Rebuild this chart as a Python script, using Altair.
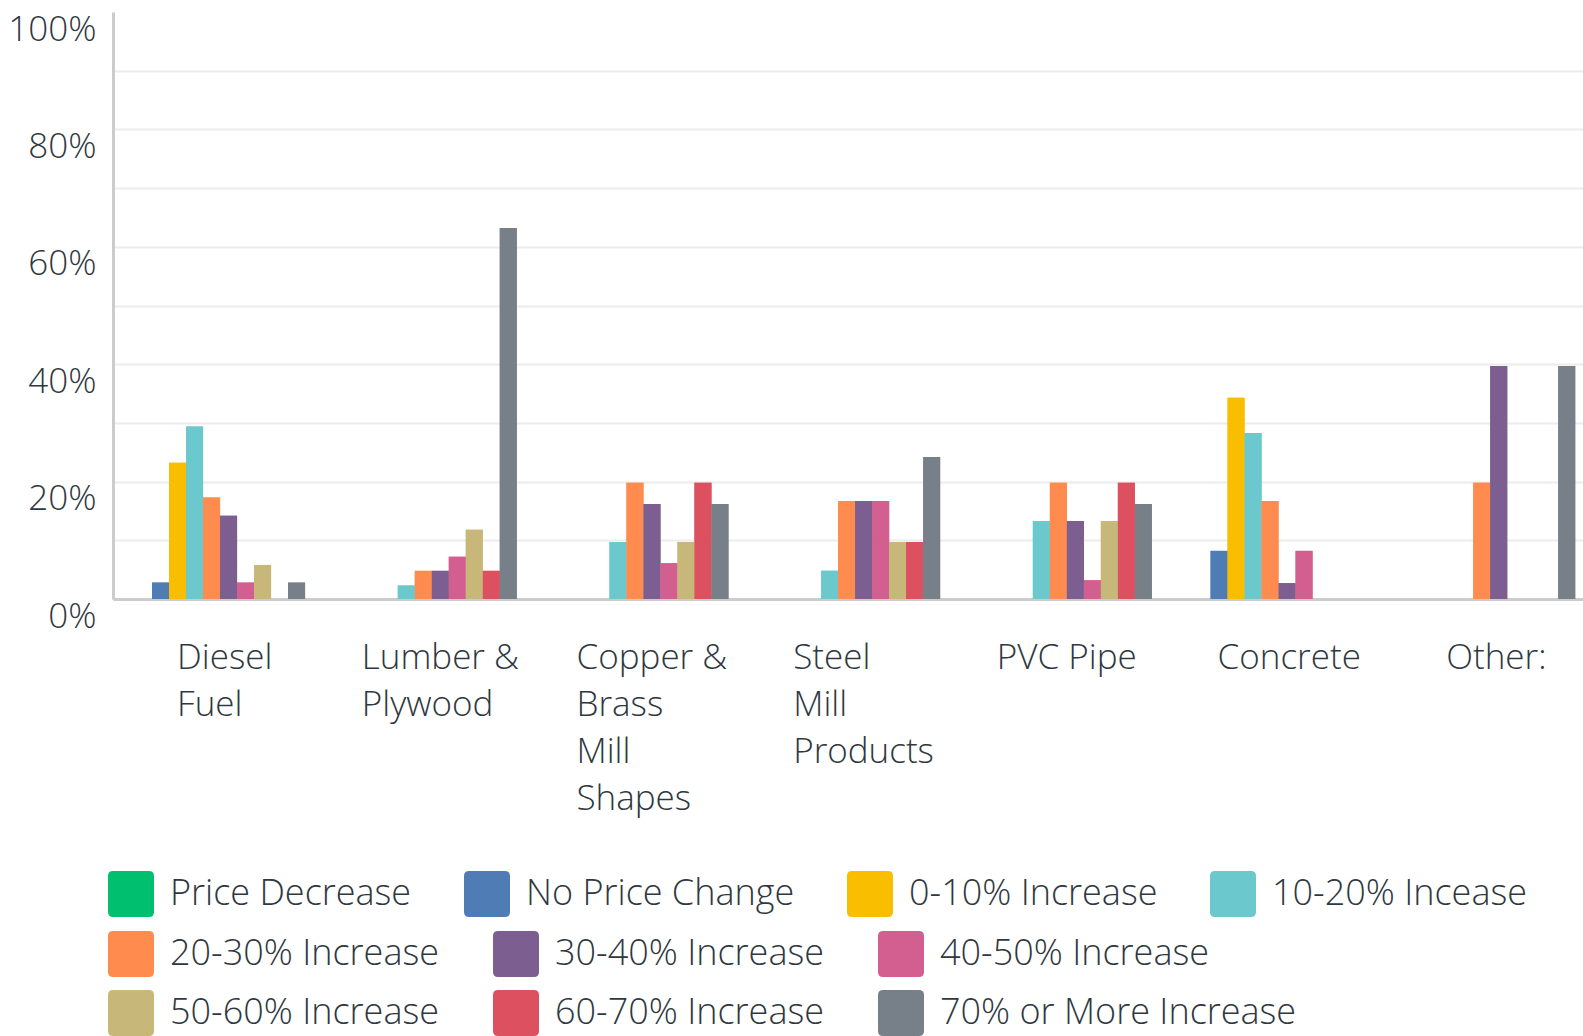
import json

import altair as alt
import pandas as pd

# Materials and the answer buckets
categories = [
    "Diesel Fuel",
    "Lumber & Plywood",
    "Copper & Brass Mill Shapes",
    "Steel Mill Products",
    "PVC Pipe",
    "Concrete",
    "Other:",
]
category_lines = [
    ["Diesel", "Fuel"],
    ["Lumber &", "Plywood"],
    ["Copper &", "Brass", "Mill", "Shapes"],
    ["Steel", "Mill", "Products"],
    ["PVC Pipe"],
    ["Concrete"],
    ["Other:"],
]
series = [
    "Price Decrease",
    "No Price Change",
    "0-10% Increase",
    "10-20% Incease",
    "20-30% Increase",
    "30-40% Increase",
    "40-50% Increase",
    "50-60% Increase",
    "60-70% Increase",
    "70% or More Increase",
]
colors = [
    "#00BF6F", "#507CB6", "#F9BE00", "#6BC8CD", "#FF8B4F",
    "#7D5E90", "#D25F90", "#C7B879", "#DC5060", "#778088",
]

# Share of respondents (%) per material, in series order
diesel = [0, 2.8, 23.2, 29.4, 17.3, 14.2, 2.8, 5.8, 0, 2.8]
lumber = [0, 0, 0, 2.3, 4.8, 4.8, 7.2, 11.8, 4.8, 63.2]
copper = [0, 0, 0, 9.7, 19.8, 16.2, 6.1, 9.7, 19.8, 16.2]
steel = [0, 0, 0, 4.8, 16.7, 16.7, 16.7, 9.7, 9.7, 24.2]
pvc = [0, 0, 0, 13.3, 19.8, 13.3, 3.2, 13.3, 19.8, 16.2]
concrete = [0, 8.2, 34.3, 28.3, 16.7, 2.7, 8.2, 0, 0, 0]
other = [0, 0, 0, 0, 19.8, 39.7, 0, 0, 0, 39.7]
values = [diesel, lumber, copper, steel, pvc, concrete, other]

# Horizontal shift of each wrapped category label (left edge vs. band centre)
label_shift = [-43, -70, -67, -62, -70, -61, -44]

rows = [
    {"category": c, "series": s, "bucket": s, "pct": v}
    for c, vals in zip(categories, values)
    for s, v in zip(series, vals)
]
df = pd.DataFrame(rows)

FONT = "Open Sans"
TEXT = "#2f3840"
WEIGHT = 300

wrap_expr = "".join(
    f"datum.value === {json.dumps(c)} ? {json.dumps(lines)} : "
    for c, lines in zip(categories, category_lines)
) + "datum.value"

x_offset_rule = {
    "condition": [
        {"test": f"datum.value === {json.dumps(c)}", "value": off}
        for c, off in zip(categories, label_shift)
    ],
    "value": 0,
}

rounded_square = (
    "M -0.78 -1 L 0.78 -1 Q 1 -1 1 -0.78 L 1 0.78 Q 1 1 0.78 1 "
    "L -0.78 1 Q -1 1 -1 0.78 L -1 -0.78 Q -1 -1 -0.78 -1 Z"
)


def legend_block(entries, cols, y, col_pad):
    return alt.Legend(
        title=None,
        values=entries,
        orient="none",
        legendX=-5,
        legendY=y,
        direction="horizontal",
        columns=cols,
        gridAlign="each",
        symbolType=rounded_square,
        symbolSize=2116,
        symbolStrokeWidth=0,
        symbolOpacity=1,
        labelFont=FONT,
        labelFontSize=36,
        labelFontWeight=WEIGHT,
        labelColor=TEXT,
        labelOffset=16,
        labelLimit=600,
        columnPadding=col_pad,
        rowPadding=13,
        padding=0,
    )


x_enc = alt.X(
    "category:N",
    sort=categories,
    title=None,
    scale=alt.Scale(paddingInner=0.197, paddingOuter=0.0705, align=0.74),
    axis=alt.Axis(
        labelExpr=wrap_expr,
        labelAlign="left",
        labelBaseline="top",
        labelOffset=x_offset_rule,
        labelPadding=41,
        labelLineHeight=47,
        labelFont=FONT,
        labelFontSize=35,
        labelFontWeight=WEIGHT,
        labelColor=TEXT,
        labelLimit=600,
        labelAngle=0,
        ticks=False,
        domainColor="#cccccc",
        domainWidth=3,
        grid=False,
    ),
)
xoff_enc = alt.XOffset(
    "series:N",
    scale=alt.Scale(domain=series, paddingInner=0, paddingOuter=0),
)
y_enc = alt.Y(
    "pct:Q",
    title=None,
    scale=alt.Scale(domain=[0, 100], nice=False),
    axis=alt.Axis(
        values=list(range(0, 101, 10)),
        labelExpr="datum.value % 20 === 0 ? datum.value + '%' : ''",
        labelFont=FONT,
        labelFontSize=35,
        labelFontWeight=WEIGHT,
        labelColor=TEXT,
        labelPadding=17,
        labelBaseline="middle",
        labelOffset=17,
        labelFlush=False,
        labelOverlap=False,
        ticks=False,
        domainColor="#cccccc",
        domainWidth=3,
        gridColor="#ececec",
        gridWidth=2,
        gridOpacity={
            "condition": {"test": "datum.value >= 100", "value": 0},
            "value": 1,
        },
    ),
)

base = alt.Chart(df).mark_bar()

# Bars coloured through "color" (legend: first row) ...
bars_top = base.encode(
    x=x_enc,
    xOffset=xoff_enc,
    y=y_enc,
    color=alt.Color(
        "series:N",
        scale=alt.Scale(domain=series, range=colors),
        legend=legend_block(series[:4], 4, 859, 52),
    ),
)
# ... and the same bars through "fill" (legend: second and third rows)
bars_rest = base.encode(
    x=x_enc,
    xOffset=xoff_enc,
    y=y_enc,
    fill=alt.Fill(
        "bucket:N",
        scale=alt.Scale(domain=series, range=colors),
        legend=legend_block(series[4:], 3, 919, 53),
    ),
)

chart = (
    alt.layer(bars_top, bars_rest)
    .resolve_legend(color="independent", fill="independent")
    .properties(
        width=1470,
        height=587,
        autosize=alt.AutoSizeParams(type="none"),
        padding={"left": 113, "top": 12, "right": 0, "bottom": 437},
    )
    .configure_view(stroke=None)
)

chart.save("out.html", embed_options={"renderer": "svg", "actions": False})
